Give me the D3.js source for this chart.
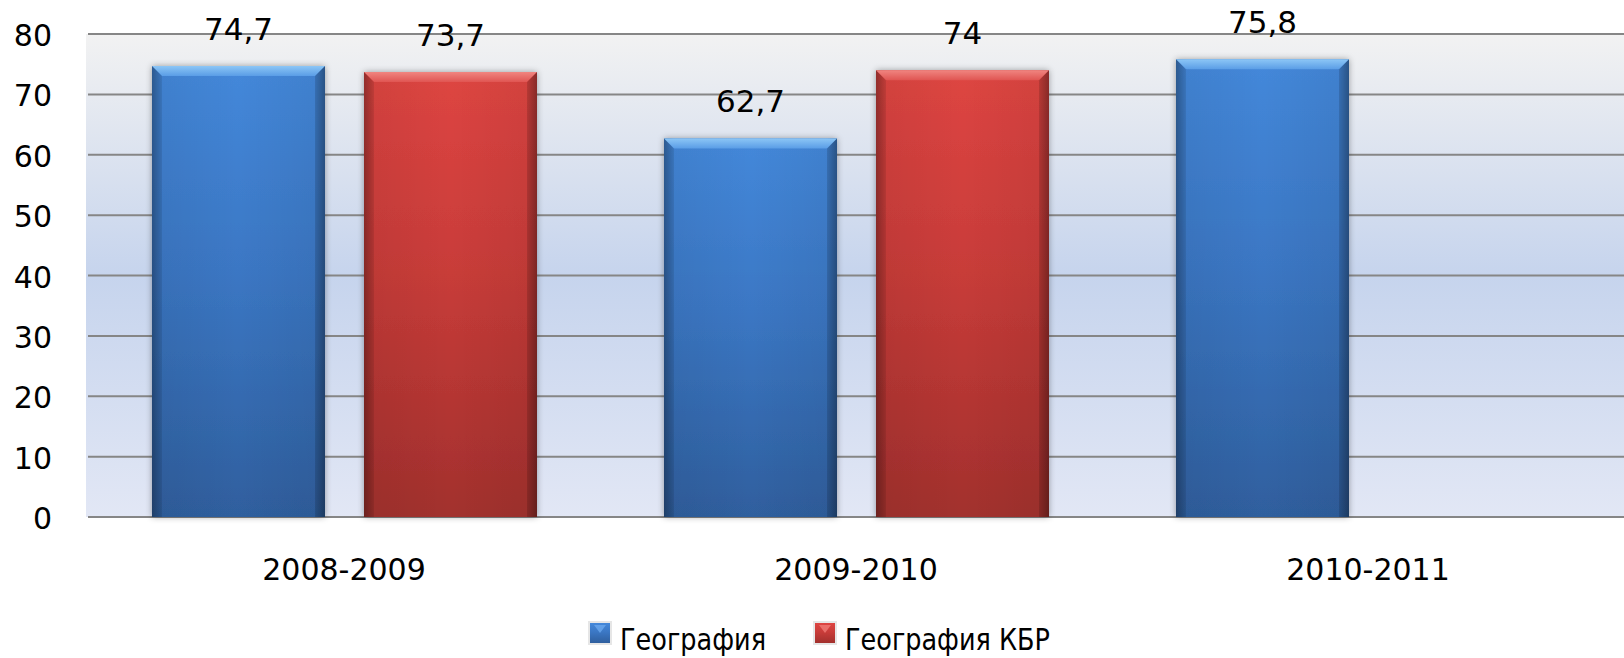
<!DOCTYPE html>
<html><head><meta charset="utf-8">
<script src="https://cdn.jsdelivr.net/npm/d3@7"></script>
<style>html,body{margin:0;padding:0;background:#fff;} svg{display:block;}</style>
</head><body>
<script>
const categories = ["2008-2009", "2009-2010", "2010-2011"];
const seriesNames = ["География", "География КБР"];
const geography = [74.7, 62.7, 75.8];
const geographyKBR = [73.7, 74, null];
const yTicks = [0, 10, 20, 30, 40, 50, 60, 70, 80];

const W = 1624, H = 658;
const svg = d3.select("body").append("svg").attr("width", W).attr("height", H);
const defs = svg.append("defs");

const font = "'DejaVu Sans', sans-serif";

function vgrad(id, stops) {
  const g = defs.append("linearGradient").attr("id", id).attr("x1", 0).attr("y1", 0).attr("x2", 0).attr("y2", 1);
  stops.forEach(s => g.append("stop").attr("offset", s[0]).attr("stop-color", s[1]).attr("stop-opacity", s[2] == null ? 1 : s[2]));
}
function hgrad(id, stops) {
  const g = defs.append("linearGradient").attr("id", id).attr("x1", 0).attr("y1", 0).attr("x2", 1).attr("y2", 0);
  stops.forEach(s => g.append("stop").attr("offset", s[0]).attr("stop-color", s[1]).attr("stop-opacity", s[2] == null ? 1 : s[2]));
}
vgrad("bg", [[0, "#f2f2f2"], [0.5, "#c6d4ed"], [1, "#e2e7f5"]]);
vgrad("blueFill", [[0, "#4488da"], [0.45, "#3b77c4"], [1, "#2f5f9e"]]);
vgrad("redFill", [[0, "#de4542"], [0.45, "#c83c39"], [1, "#a2302d"]]);
hgrad("edgeShade", [[0, "#000", 0.28], [0.06, "#000", 0.05], [0.5, "#000", 0], [0.94, "#000", 0.05], [1, "#000", 0.3]]);
vgrad("blueTop", [[0, "#8cc6f6"], [1, "#5a9de6"]]);
vgrad("redTop", [[0, "#f08580"], [1, "#e05552"]]);
const sh = defs.append("filter").attr("id", "shadow").attr("x", "-10%").attr("y", "-10%").attr("width", "120%").attr("height", "120%");
sh.append("feGaussianBlur").attr("in", "SourceAlpha").attr("stdDeviation", 3).attr("result", "b");
sh.append("feFlood").attr("flood-color", "#000").attr("flood-opacity", 0.35);
sh.append("feComposite").attr("in2", "b").attr("operator", "in").attr("result", "s");
const m = sh.append("feMerge");
m.append("feMergeNode").attr("in", "s");
m.append("feMergeNode").attr("in", "SourceGraphic");

const plotL = 88, plotR = 1624;
const y = d3.scaleLinear().domain([0, 80]).range([517, 34]);
const x0 = d3.scaleBand().domain(categories).range([plotL, plotR]).padding(0);
const x1 = d3.scaleBand().domain(seriesNames).range([64, 449]).paddingInner(0.184).paddingOuter(0);

svg.append("rect").attr("x", 86).attr("y", y(80)).attr("width", plotR - 86).attr("height", y(0) - y(80)).attr("fill", "url(#bg)");

svg.append("g").selectAll("line").data(yTicks).join("line")
  .attr("x1", plotL).attr("x2", plotR)
  .attr("y1", d => y(d)).attr("y2", d => y(d))
  .attr("stroke", "#868686").attr("stroke-width", 2);

const yAxis = d3.axisLeft(y).tickValues(yTicks).tickSize(0).tickPadding(0).tickFormat(d3.format("d"));
const ya = svg.append("g").attr("transform", "translate(52,2)").call(yAxis);
ya.select(".domain").remove();
ya.selectAll("text").attr("font-family", font).attr("font-size", 30).attr("fill", "#000");

const xAxis = d3.axisBottom(x0).tickSize(0).tickPadding(0);
const xa = svg.append("g").attr("transform", "translate(0,559)").call(xAxis);
xa.select(".domain").remove();
xa.selectAll("text").attr("font-family", font).attr("font-size", 30).attr("fill", "#000");

const rows = [];
categories.forEach((c, i) => {
  [geography[i], geographyKBR[i]].forEach((v, j) => {
    if (v != null) rows.push({ cat: c, series: seriesNames[j], v, j });
  });
});

const bw = x1.bandwidth();
const g = svg.append("g");
rows.forEach(r => {
  const bx = x0(r.cat) + x1(r.series);
  const by = y(r.v);
  const bh = y(0) - by;
  const bar = g.append("g");
  bar.append("rect").attr("x", bx).attr("y", by).attr("width", bw).attr("height", bh)
    .attr("fill", r.j === 0 ? "url(#blueFill)" : "url(#redFill)").attr("filter", "url(#shadow)");
  bar.append("rect").attr("x", bx).attr("y", by).attr("width", bw).attr("height", bh)
    .attr("fill", "url(#edgeShade)");
  const t = 10;
  bar.append("path")
    .attr("d", `M${bx},${by}L${bx + bw},${by}L${bx + bw - t},${by + t}L${bx + t},${by + t}Z`)
    .attr("fill", r.j === 0 ? "url(#blueTop)" : "url(#redTop)");
  bar.append("path")
    .attr("d", `M${bx},${by}L${bx + t},${by + t}L${bx + t},${by + bh}L${bx},${by + bh}Z`)
    .attr("fill", "#000").attr("opacity", 0.08);
  bar.append("path")
    .attr("d", `M${bx + bw},${by}L${bx + bw - t},${by + t}L${bx + bw - t},${by + bh}L${bx + bw},${by + bh}Z`)
    .attr("fill", "#000").attr("opacity", 0.12);
  g.append("text").attr("x", bx + bw / 2).attr("y", by - 26)
    .attr("text-anchor", "middle").attr("font-family", font).attr("font-size", 31).attr("fill", "#000")
    .text(String(r.v).replace(".", ","));
});

const legend = [
  { name: seriesNames[0], mx: 590, tx: 620, tl: 146, grad: "url(#blueFill)", top: "#6aa8ee" },
  { name: seriesNames[1], mx: 815, tx: 845, tl: 205, grad: "url(#redFill)", top: "#f07a75" }
];
const lg = svg.append("g");
legend.forEach(l => {
  lg.append("rect").attr("x", l.mx - 2).attr("y", 621).attr("width", 24).attr("height", 24).attr("fill", "#dcdcdc").attr("opacity", 0.7);
  lg.append("rect").attr("x", l.mx).attr("y", 623).attr("width", 20).attr("height", 20).attr("fill", l.grad);
  lg.append("path").attr("d", `M${l.mx + 4},${625}L${l.mx + 16},${625}L${l.mx + 10},${633}Z`).attr("fill", l.top).attr("opacity", 0.8);
  lg.append("text").attr("x", l.tx).attr("y", 650).attr("font-family", font).attr("font-size", 30)
    .attr("textLength", l.tl).attr("lengthAdjust", "spacingAndGlyphs").attr("fill", "#000").text(l.name);
});
</script>
</body></html>
